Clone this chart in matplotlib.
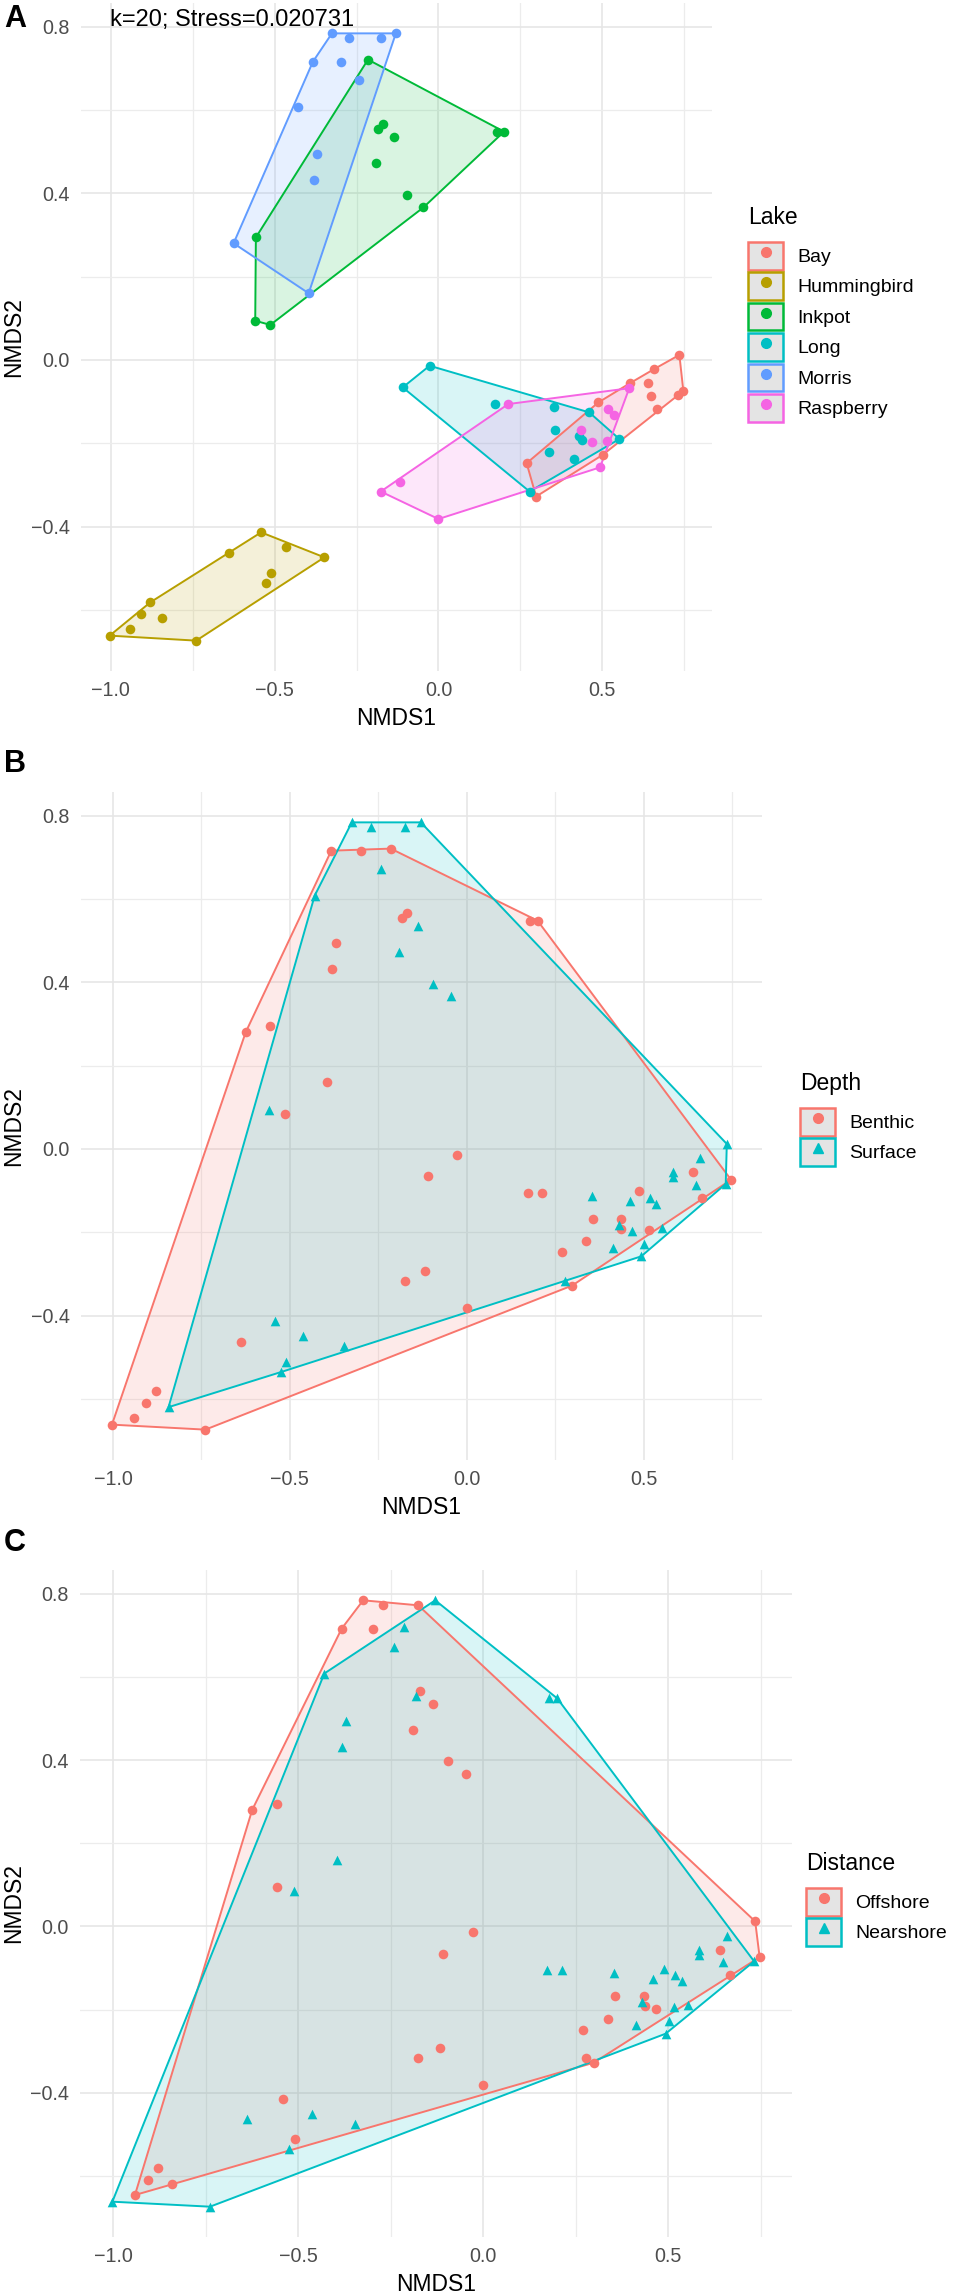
import numpy as np
import matplotlib
matplotlib.use("Agg")
import matplotlib.pyplot as plt
import matplotlib.ticker as ticker
from matplotlib.patches import Polygon, Patch
from matplotlib.lines import Line2D

plt.rcParams['font.family'] = ['Liberation Sans', 'DejaVu Sans']

# NMDS scores, grouped by lake (12 samples each, one hidden in Raspberry)
lakes = ['Bay', 'Hummingbird', 'Inkpot', 'Long', 'Morris', 'Raspberry']

nmds1 = [
    0.735, 0.658, 0.584, 0.640, 0.647, 0.747, 0.732, 0.666, 0.488, 0.269, 0.298, 0.501,          # Bay
    -0.541, -0.464, -0.348, -0.638, -0.510, -0.526, -0.879, -0.906, -0.843, -0.942, -1.003, -0.739,  # Hummingbird
    -0.215, -0.170, -0.183, -0.137, -0.191, -0.096, -0.046, 0.178, 0.200, -0.557, -0.559, -0.513,  # Inkpot
    -0.027, -0.109, 0.173, 0.354, 0.460, 0.357, 0.430, 0.437, 0.552, 0.336, 0.412, 0.278,         # Long
    -0.325, -0.272, -0.176, -0.130, -0.383, -0.298, -0.242, -0.430, -0.371, -0.381, -0.625, -0.396,  # Morris
    0.213, 0.582, 0.518, 0.536, 0.435, 0.468, 0.515, 0.493, -0.117, -0.176, 0.000,               # Raspberry
]
nmds2 = [
    0.012, -0.022, -0.056, -0.056, -0.086, -0.074, -0.084, -0.118, -0.102, -0.248, -0.328, -0.228,
    -0.414, -0.450, -0.474, -0.464, -0.512, -0.536, -0.582, -0.610, -0.620, -0.646, -0.662, -0.674,
    0.721, 0.566, 0.554, 0.534, 0.472, 0.397, 0.366, 0.548, 0.548, 0.294, 0.094, 0.084,
    -0.014, -0.066, -0.106, -0.112, -0.126, -0.168, -0.182, -0.192, -0.190, -0.222, -0.238, -0.316,
    0.784, 0.772, 0.772, 0.784, 0.716, 0.716, 0.672, 0.608, 0.494, 0.432, 0.280, 0.160,
    -0.106, -0.068, -0.118, -0.132, -0.168, -0.198, -0.194, -0.258, -0.292, -0.316, -0.382,
]
lake = ['Bay'] * 12 + ['Hummingbird'] * 12 + ['Inkpot'] * 12 + ['Long'] * 12 + ['Morris'] * 12 + ['Raspberry'] * 11

B, S = 'Benthic', 'Surface'
depth = [
    S, S, S, B, S, B, S, B, B, B, B, S,
    S, S, S, B, S, S, B, B, S, B, B, B,
    B, B, B, S, S, S, S, B, B, B, S, B,
    B, B, B, S, S, B, S, B, S, B, S, S,
    S, S, S, S, B, B, S, S, B, B, B, B,
    B, S, S, S, B, S, B, S, B, B, B,
]
O, N = 'Offshore', 'Nearshore'
distance = [
    O, N, N, O, N, O, N, O, N, O, O, N,
    O, N, N, N, O, N, O, O, O, O, N, N,
    N, O, N, O, O, O, O, N, N, O, O, N,
    O, O, N, N, N, O, N, O, N, O, N, O,
    O, O, O, N, O, O, N, N, N, N, O, N,
    N, N, N, N, O, O, N, N, O, O, O,
]

stress_label = 'k=20; Stress=0.020731'

lake_colors = ['#F8766D', '#B79F00', '#00BA38', '#00BFC4', '#619CFF', '#F564E3']
two_colors = ['#F8766D', '#00BFC4']

x = np.array(nmds1)
y = np.array(nmds2)

W, H = 955, 2294
fig = plt.figure(figsize=(W / 100, H / 100), dpi=100)


def px_axes(left, top, right, bottom):
    return fig.add_axes([left / W, 1 - bottom / H, (right - left) / W, (bottom - top) / H])


def hull(px, py):
    pts = sorted(set(zip(px, py)))
    if len(pts) < 3:
        return pts

    def cross(o, a, b):
        return (a[0] - o[0]) * (b[1] - o[1]) - (a[1] - o[1]) * (b[0] - o[0])

    lower, upper = [], []
    for p in pts:
        while len(lower) >= 2 and cross(lower[-2], lower[-1], p) <= 0:
            lower.pop()
        lower.append(p)
    for p in reversed(pts):
        while len(upper) >= 2 and cross(upper[-2], upper[-1], p) <= 0:
            upper.pop()
        upper.append(p)
    return lower[:-1] + upper[:-1]


def minus(v, pos):
    return f'{v:.1f}'.replace('-', '\u2212')


def style_axes(ax):
    span_x = x.max() - x.min()
    span_y = y.max() - y.min()
    ax.set_xlim(x.min() - 0.05 * span_x, x.max() + 0.05 * span_x)
    ax.set_ylim(y.min() - 0.05 * span_y, y.max() + 0.05 * span_y)
    ax.xaxis.set_major_locator(ticker.MultipleLocator(0.5))
    ax.xaxis.set_minor_locator(ticker.MultipleLocator(0.25))
    ax.yaxis.set_major_locator(ticker.MultipleLocator(0.4))
    ax.yaxis.set_minor_locator(ticker.MultipleLocator(0.2))
    ax.xaxis.set_major_formatter(ticker.FuncFormatter(minus))
    ax.yaxis.set_major_formatter(ticker.FuncFormatter(minus))
    ax.grid(True, which='major', color='#e6e6e6', linewidth=1.2)
    ax.grid(True, which='minor', color='#ececec', linewidth=0.9)
    ax.set_axisbelow(True)
    for sp in ax.spines.values():
        sp.set_visible(False)
    ax.tick_params(which='both', length=0, labelsize=14.2, labelcolor='#4d4d4d')
    ax.tick_params(axis='x', pad=7)
    ax.tick_params(axis='y', pad=8)
    ax.set_xlabel('NMDS1', fontsize=16.5, labelpad=5)
    ax.set_ylabel('NMDS2', fontsize=16.5)
    pos = ax.get_position()
    # rotated label is anchored on its right-hand side
    ax.yaxis.set_label_coords((25 / W - pos.x0) / pos.width, 0.5)


def draw_groups(ax, groups, labels, colors, markers):
    labels = np.array(labels)
    for g, c in zip(groups, colors):
        m = labels == g
        poly = hull(x[m], y[m])
        ax.add_patch(Polygon(poly, closed=True, facecolor=c, alpha=0.15, edgecolor='none', zorder=2))
        ax.add_patch(Polygon(poly, closed=True, facecolor='none', edgecolor=c, linewidth=1.4, zorder=3))
    for g, c, mk in zip(groups, colors, markers):
        m = labels == g
        ax.scatter(x[m], y[m], color=c, marker=mk, s=48, linewidths=0, zorder=4)


def add_legend(title, groups, colors, markers, left, top):
    handles = []
    for c, mk in zip(colors, markers):
        key = Patch(facecolor='#e4e4e4', edgecolor=c, linewidth=1.8)
        dot = Line2D([], [], linestyle='none', marker=mk, color=c, markersize=7)
        handles.append((key, dot))
    fig.text(left / W, 1 - top / H, title, fontsize=16.5, ha='left', va='top')
    fig.legend(handles, groups, loc='upper left', bbox_to_anchor=(left / W, 1 - (top + 36) / H),
               frameon=False, fontsize=14, handlelength=1.8, handleheight=1.8,
               labelspacing=0.15, handletextpad=0.75, borderpad=0, borderaxespad=0)


# Panel A
axA = px_axes(81, 3, 712, 671)
style_axes(axA)
draw_groups(axA, lakes, lake, lake_colors, ['o'] * 6)
axA.text(x.min(), 0.816, stress_label, fontsize=17, ha='left', va='center', zorder=5)
add_legend('Lake', lakes, lake_colors, ['o'] * 6, 748, 206)

# Panel B
axB = px_axes(81, 792, 762, 1460)
style_axes(axB)
draw_groups(axB, [B, S], depth, two_colors, ['o', '^'])
add_legend('Depth', [B, S], two_colors, ['o', '^'], 800, 1072)

# Panel C
axC = px_axes(80, 1570, 792, 2237)
style_axes(axC)
draw_groups(axC, [O, N], distance, two_colors, ['o', '^'])
add_legend('Distance', [O, N], two_colors, ['o', '^'], 806, 1852)

for letter, ypx in [('A', 19), ('B', 764), ('C', 1543)]:
    fig.text(4 / W, 1 - ypx / H, letter, fontsize=22, fontweight='bold', ha='left', va='center')

fig.savefig('out.png', dpi=100)
